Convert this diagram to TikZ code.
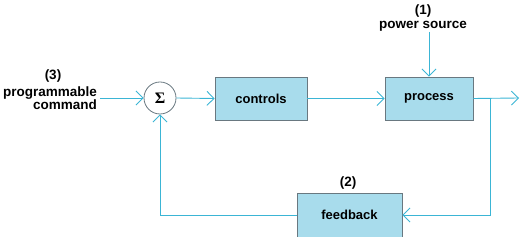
\documentclass[tikz,border=0pt]{standalone}
\usepackage{fontspec}
\setmainfont{Liberation Sans}
\newfontfamily\sigfont{Liberation Serif}
\usetikzlibrary{arrows.meta}
\definecolor{linec}{RGB}{59,181,213}
\definecolor{boxfill}{RGB}{168,220,236}
\definecolor{boxline}{RGB}{105,120,128}
\begin{document}
\begin{tikzpicture}[x=1pt,y=-1pt,
  blk/.style={draw=boxline,fill=boxfill,line width=0.8pt,inner sep=0pt,font=\bfseries\fontsize{13}{14}\selectfont},
  lbl/.style={font=\bfseries\fontsize{13.5}{13.5}\selectfont,inner sep=0pt},
  conn/.style={draw=linec,line width=0.9pt},
  arr/.style={conn,-{Straight Barb[length=7pt,width=14pt,line width=0.9pt]}}]
\useasboundingbox (0,0) rectangle (524,237);
\node[blk,minimum width=92pt,minimum height=43pt] (controls) at (261,98.5) {controls};
\node[blk,minimum width=88pt,minimum height=43pt] (process) at (429,98.5) {process};
\node[blk,minimum width=105pt,minimum height=44pt] (feedback) at (349.5,215) {feedback};
\node[draw=boxline,fill=white,circle,line width=0.8pt,minimum size=32pt,inner sep=0pt,font=\sigfont\bfseries\fontsize{16}{16}\selectfont] (sum) at (160,98) {Σ};
\node[lbl,align=right,anchor=east] (cmd) at (97,98) {programmable\\command};
\node[lbl] (three) at (53,76) {(3)};
\node[lbl,align=center] (pow) at (423,18) {(1)\\power source};
\node[lbl] (two) at (348,183) {(2)};
\coordinate (inp) at (100,98);
\coordinate (out) at (519,98);
\coordinate (br) at (490,98);
\coordinate (pwtop) at (429,32);
\draw[arr] (inp) -- (sum.west);
\draw[arr] (sum.east) -- (controls.west);
\draw[arr] (controls.east) -- (process.west);
\draw[arr] (pwtop) -- (process.north);
\draw[arr] (process.east) -- (out);
\draw[arr] (br) |- (feedback.east);
\draw[arr] (feedback.west) -| (sum.south);
\end{tikzpicture}
\end{document}
